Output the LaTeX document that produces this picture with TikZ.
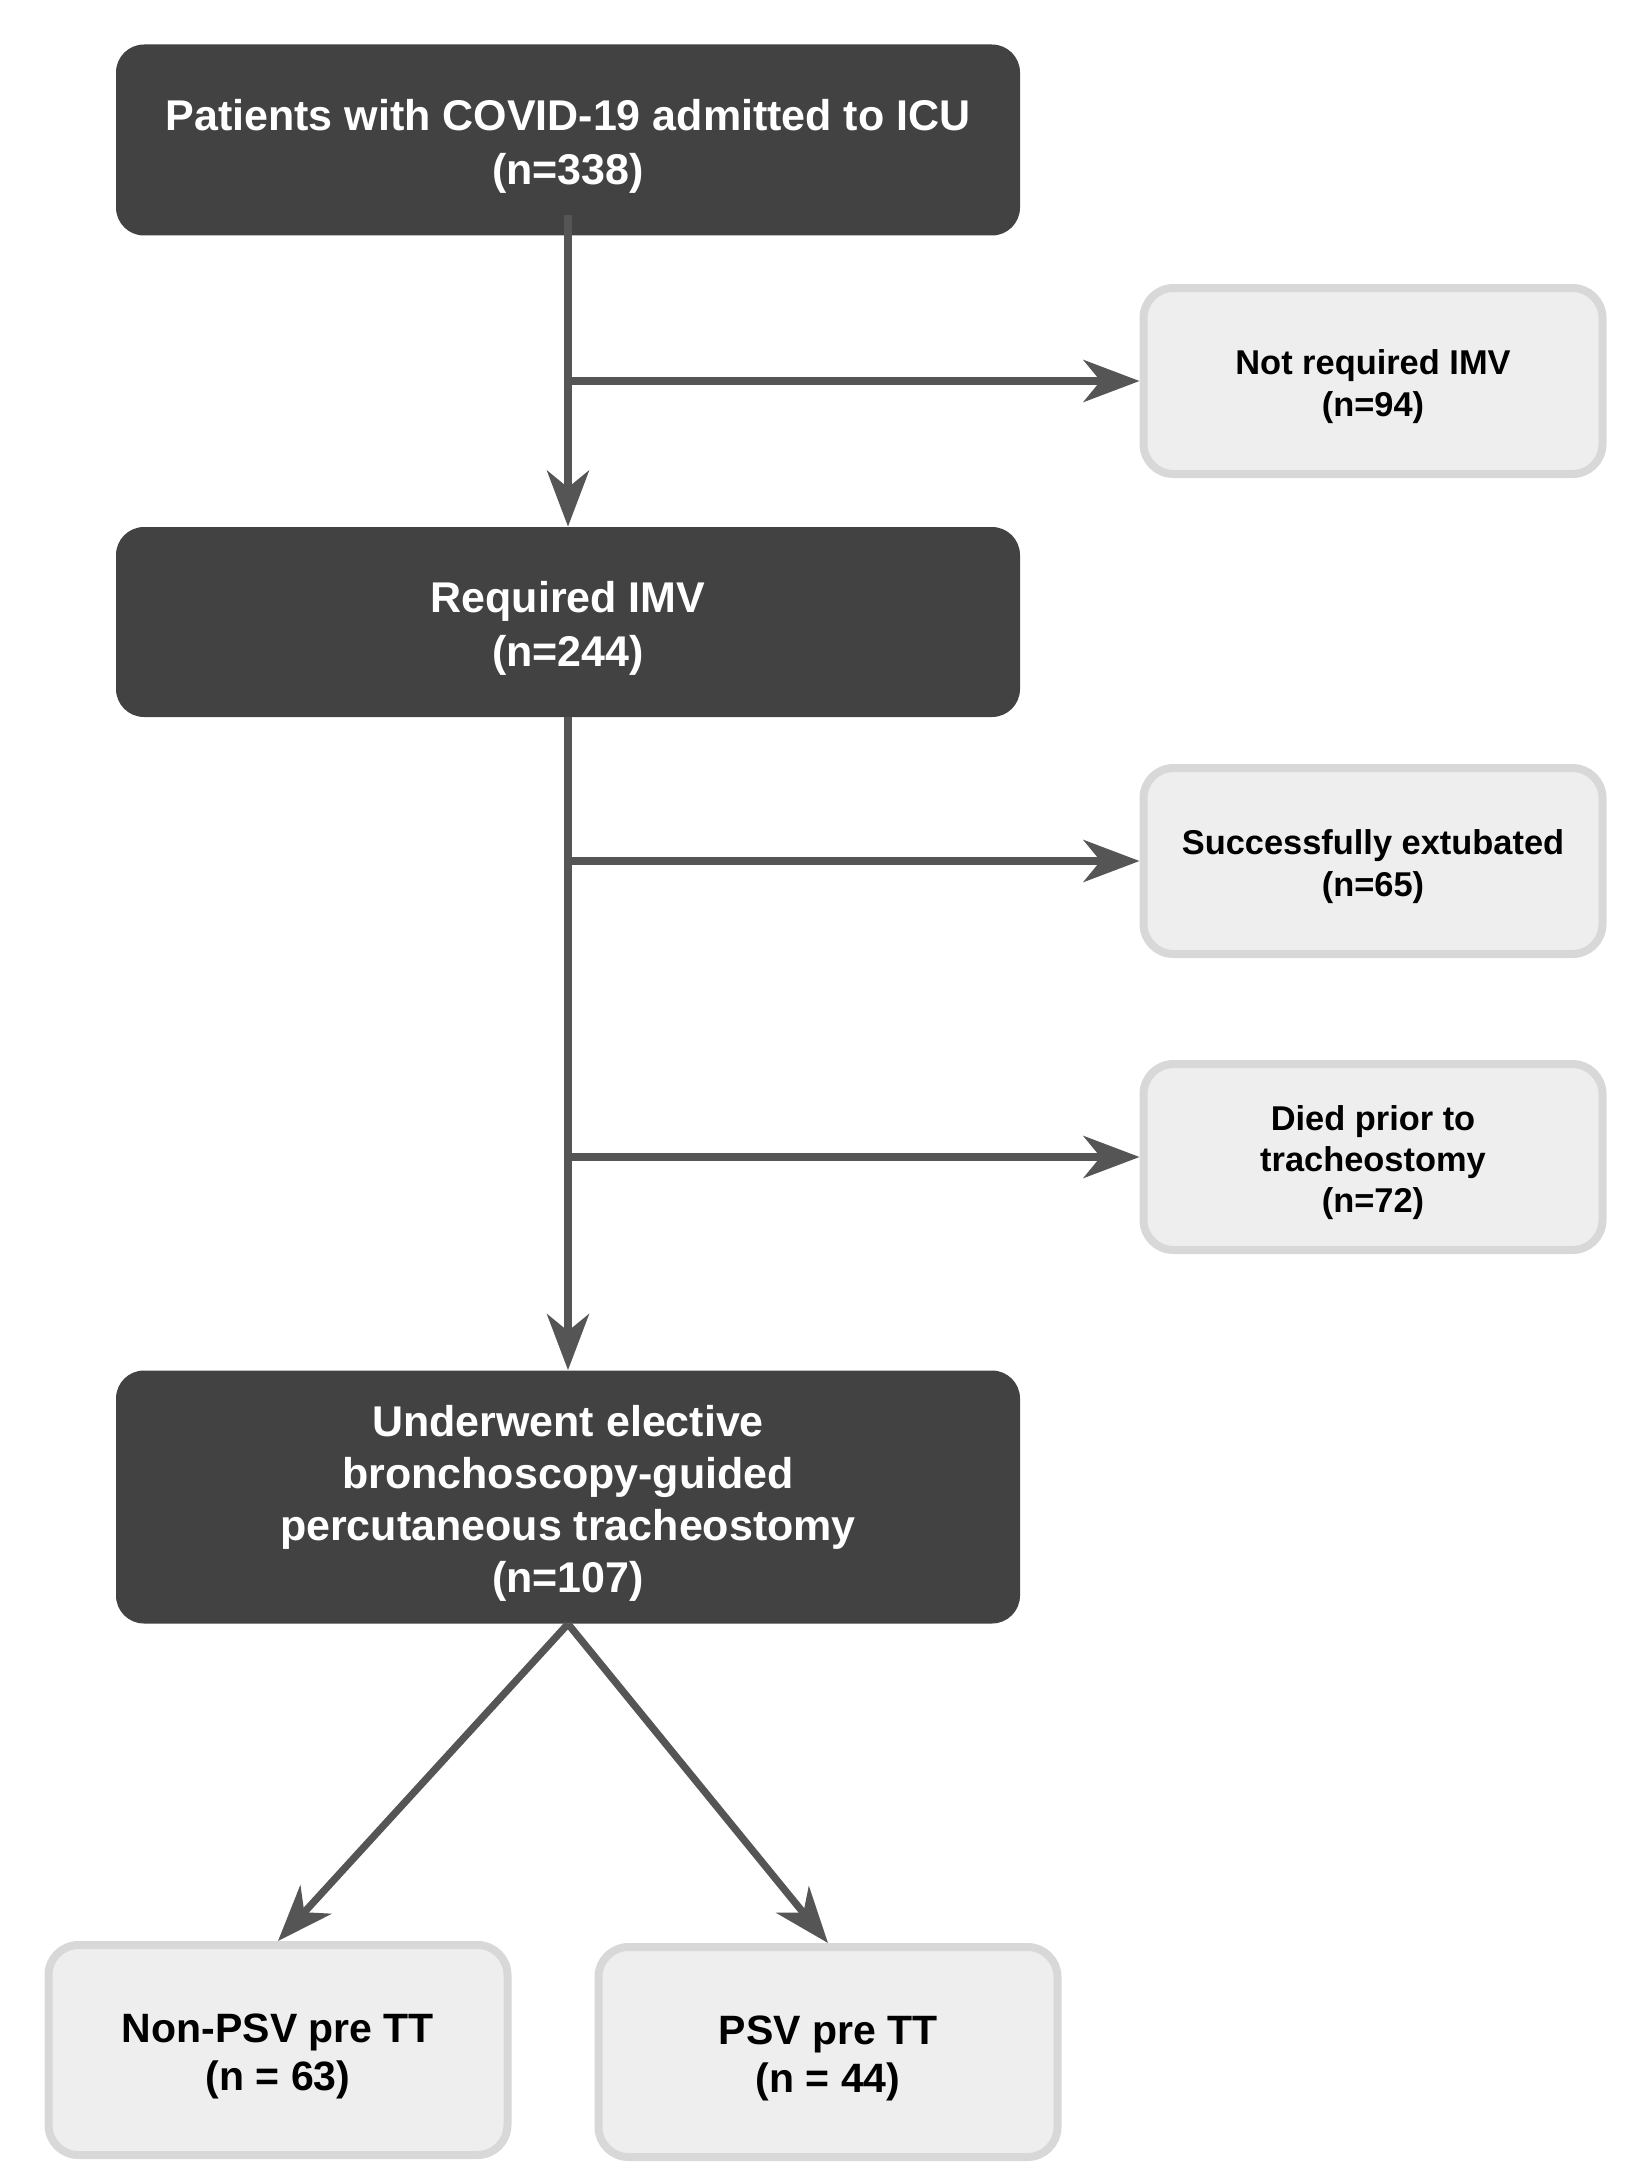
\documentclass[tikz,border=0pt]{standalone}
\usepackage{fontspec}
\setmainfont{Liberation Sans}
\usetikzlibrary{arrows.meta}
\definecolor{cDark}{HTML}{424242}
\definecolor{cLight}{HTML}{EEEEEE}
\definecolor{cBorder}{HTML}{D8D8D8}
\definecolor{cLine}{HTML}{555555}
\newcommand{\toppad}[1]{\rule{0pt}{#1}}
\tikzset{
  darkstage/.style={fill=cDark, draw=none, rounded corners=14pt, minimum width=452pt,
    align=center, text=white, inner sep=0pt,
    font=\bfseries\fontsize{21.5}{27}\selectfont},
  sidebox/.style={fill=cLight, draw=cBorder, line width=4pt, rounded corners=15pt,
    minimum width=229.5pt, minimum height=93pt, align=center, text=black, inner sep=0pt,
    font=\bfseries\fontsize{17.2}{20.6}\selectfont},
  groupbox/.style={fill=cLight, draw=cBorder, line width=4pt, rounded corners=15pt,
    minimum width=229.5pt, minimum height=105pt, align=center, text=black, inner sep=0pt,
    font=\bfseries\fontsize{20.5}{24}\selectfont},
  arr/.style={draw=cLine, line width=3.6pt, -{Stealth[length=28pt,width=21pt,inset=8.5pt]}}
}
\begin{document}
\begin{tikzpicture}[x=0.5pt,y=-0.5pt]
\useasboundingbox[fill=white] (0,0) rectangle (1631,2167);

\node[darkstage, minimum height=95.5pt] (n1) at (568,140)
  {\toppad{21.5pt}Patients with COVID-19 admitted to ICU\\(n=338)};
\node[sidebox] (n2) at (1373,381) {\toppad{18pt}Not required IMV\\(n=94)};
\node[darkstage, minimum height=95pt] (n3) at (568,622) {\toppad{21.5pt}Required IMV\\(n=244)};
\node[sidebox] (n4) at (1373,861) {\toppad{18pt}Successfully extubated\\(n=65)};
\node[sidebox] (n5) at (1373,1157) {\toppad{18pt}Died prior to\\tracheostomy\\(n=72)};
\node[darkstage, minimum height=126.5pt, font=\bfseries\fontsize{21.5}{26}\selectfont] (n6) at (568,1497)
  {\toppad{21.5pt}Underwent elective\\bronchoscopy-guided\\percutaneous tracheostomy\\(n=107)};
\node[groupbox] (n7) at (278,2050) {\toppad{20.5pt}Non-PSV pre TT\\(n = 63)};
\node[groupbox] (n8) at (828,2052) {\toppad{20.5pt}PSV pre TT\\(n = 44)};

\draw[arr] ([yshift=10.5pt]n1.south) -- (n3.north);
\draw[arr] (n1.south |- n2.west) -- (n2.west);
\draw[arr] (n3.south) -- (n6.north);
\draw[arr] (n3.south |- n4.west) -- (n4.west);
\draw[arr] (n3.south |- n5.west) -- (n5.west);
\draw[arr] (n6.south) -- (n7.north);
\draw[arr] (n6.south) -- (n8.north);
\end{tikzpicture}
\end{document}
